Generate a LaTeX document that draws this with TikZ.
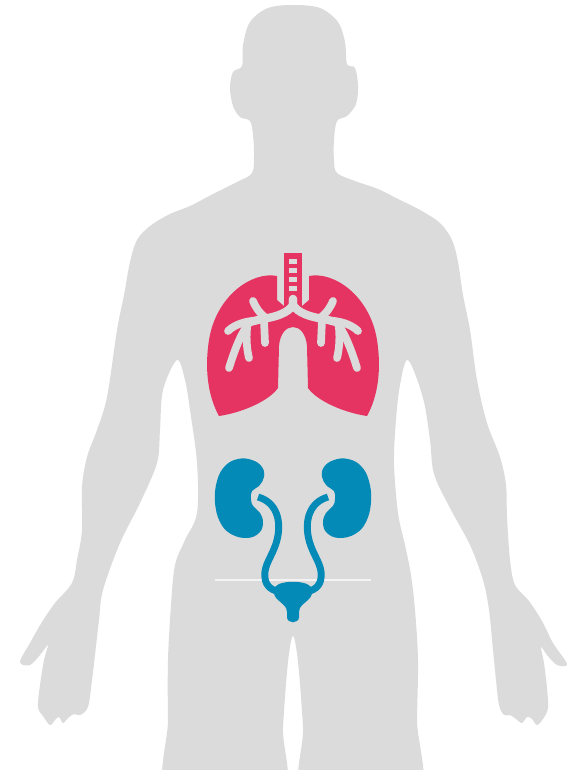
\documentclass[tikz,border=0pt]{standalone}
\definecolor{bodygray}{RGB}{219,219,219}
\definecolor{lungpink}{RGB}{230,52,98}
\definecolor{kidneyblue}{RGB}{3,138,182}
\definecolor{pelvisline}{RGB}{243,243,243}
\begin{document}
\begin{tikzpicture}[x=0.75pt,y=-0.75pt,
    body/.style={fill=bodygray},
    lung/.style={fill=lungpink},
    airway/.style={draw=bodygray, line width=5.8pt, line cap=round},
    kidney/.style={fill=kidneyblue},
    ureter/.style={draw=kidneyblue, line width=5.2pt}]
    \useasboundingbox (0,0) rectangle (574,770);
    \clip (0,0) rectangle (574,770);

    % silhouette
    \fill[body] plot[smooth cycle, tension=0.55] coordinates {
      (294,5) (320,8) (338,22) (345,42) (347,64)
      (355,68) (358,86) (356,104) (347,116) (337,121)
      (334,140) (334,160) (337,173)
      (355,181) (378,189) (398,199) (420,210) (440,223) (452,240) (458,262)
      (463,295) (470,330) (477,380) (487,423) (500,457) (506,485) (507,517) (510,560)
      (515,585) (529,601) (542,621) (553,643) (567,664) (557,665) (547,655) (541,647)
      (544,663) (547,688) (548,708) (543,719) (537,725) (532,719) (527,717) (522,723)
      (516,719) (510,715) (504,715) (499,705) (496,680) (493,650) (489,610) (483,580)
      (470,545) (450,508) (434,474) (430,440) (423,398) (408,360)
      (400,385) (396,420) (394,463) (398,513) (405,545) (411,575) (415,610) (418,660)
      (417,720) (416,800) (306,800) (303,727) (298,662) (293,636)
      (288,662) (283,727) (280,800) (170,800)
      (168,720) (168,660) (171,605) (175,565) (185,540) (197,513) (197,463) (190,410)
      (185,380) (177,360)
      (163,390) (160,430) (157,463) (140,503) (120,543) (103,590)
      (99,620) (95,655) (92,680) (88,707) (80,715) (74,714) (68,718) (63,723) (59,717)
      (55,720) (50,725) (43,716) (38,707) (40,685) (44,660) (48,645) (40,655) (30,665)
      (20,662) (30,643) (42,622) (55,603) (72,583) (77,560)
      (82,530) (82,487) (87,457) (97,430) (107,397) (117,330) (124,295) (130,262)
      (137,240) (150,226) (170,214) (190,206) (215,193) (237,182) (252,173)
      (254,155) (253,135) (250,121)
      (240,117) (233,106) (230,88) (233,72) (242,66)
      (243,45) (250,22) (268,8)};

    \draw[pelvisline, line width=0.8pt] (215,580) -- (371,580);

    % trachea
    \fill[lung] (284,253) rectangle (302,306);
    \foreach \y in {259,268,277,286}
      \fill[bodygray] (289,\y) rectangle (297,\y+5);

    % both lungs and kidneys, mirrored about the spine
    \foreach \s in {1,-1} {
      \begin{scope}[shift={({293-293*\s},0)}, xscale=\s]
        \fill[lung] (277,300) -- (277,276) .. controls (252,271) and (216,296) .. (209,340)
          .. controls (204,372) and (209,398) .. (219,416)
          .. controls (240,413) and (268,402) .. (278,388) -- (279,346)
          .. controls (280,334) and (286,327) .. (293,327) -- (293,306) -- (284,306) -- cycle;
        \draw[airway, line width=6.2pt] (293,299) -- (293,305)
          .. controls (288,313) and (276,317) .. (262,319) -- (250,322);
        \draw[airway] (266,318) .. controls (259,313) and (255,306) .. (253,301);
        \draw[airway] (252,321) .. controls (242,322) and (233,326) .. (228,331);
        \draw[airway] (249,323) .. controls (240,335) and (234,352) .. (229,368);
        \draw[airway] (247,328) .. controls (246,340) and (247,350) .. (249,358);
        \draw[airway] (264,320) -- (265,343);

        \fill[kidney] plot[smooth cycle, tension=0.7] coordinates {
          (238,459) (252,460) (262,467) (264,477) (259,486) (252,491) (251,499)
          (253,506) (260,513) (263,523) (259,533) (247,538) (231,534) (220,522)
          (215,502) (217,481) (225,466)};
        \draw[ureter] (258,497) .. controls (276,502) and (282,520) .. (277,540)
          .. controls (273,556) and (263,565) .. (265,578)
          .. controls (266,587) and (273,591) .. (281,592);
      \end{scope}
    }

    % bladder
    \fill[kidney] (279,584) .. controls (287,581) and (299,581) .. (307,584)
      .. controls (313,586) and (314,594) .. (309,599)
      .. controls (304,604) and (299,606) .. (299,612) -- (299,617)
      .. controls (299,624) and (287,624) .. (287,617) -- (287,612)
      .. controls (287,606) and (282,604) .. (277,599)
      .. controls (272,594) and (273,586) .. (279,584) -- cycle;
\end{tikzpicture}
\end{document}
